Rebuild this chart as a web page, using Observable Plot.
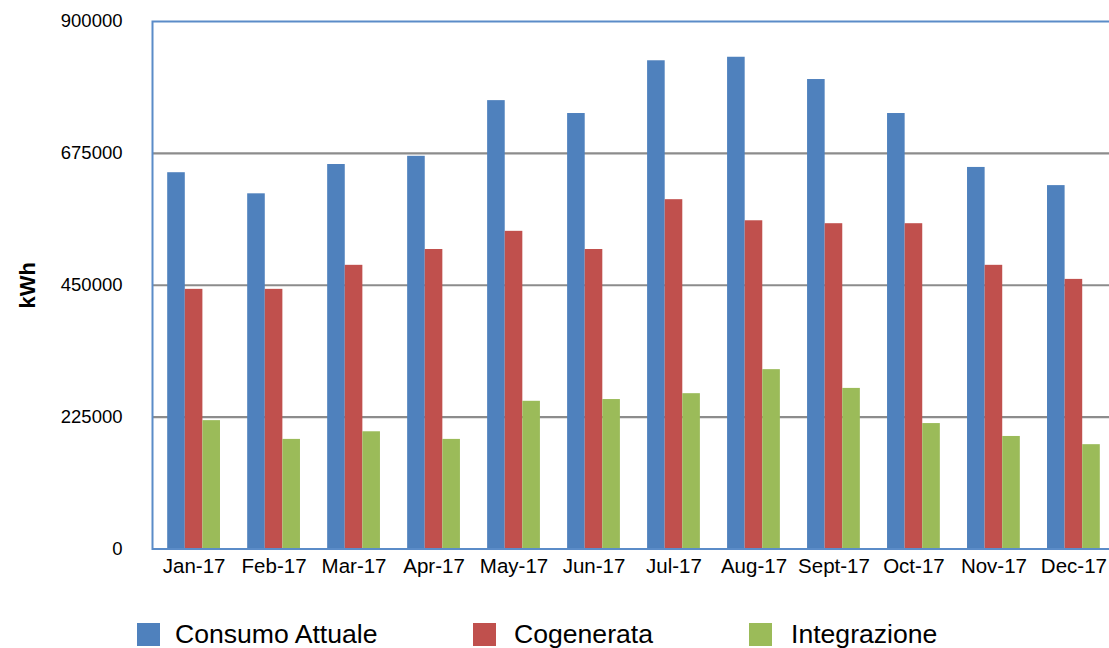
<!DOCTYPE html>
<html><head><meta charset="utf-8">
<script src="https://cdn.jsdelivr.net/npm/d3@7"></script>
<script src="https://cdn.jsdelivr.net/npm/@observablehq/plot@0.6"></script>
<style>
html,body{margin:0;padding:0;background:#fff;overflow:hidden;width:1109px;height:648px;}
#wrap{position:relative;width:1109px;height:648px;overflow:hidden;font-family:"Liberation Sans",Arial,sans-serif;}
#chart{position:absolute;left:0;top:0;}
#chart svg{max-width:none !important;}
.leg{position:absolute;top:621px;display:flex;align-items:center;font-size:26.6px;color:#000;line-height:26px;white-space:nowrap;}
</style></head><body><div id="wrap"><div id="chart"></div></div>
<script>
const months = ["Jan-17","Feb-17","Mar-17","Apr-17","May-17","Jun-17","Jul-17","Aug-17","Sept-17","Oct-17","Nov-17","Dec-17"];
const consumo = [642000, 606000, 656000, 670000, 765000, 743000, 833000, 839000, 801000, 743000, 651000, 620000];
const cogenerata = [443000, 443000, 484000, 511000, 542000, 511000, 596000, 560000, 555000, 555000, 484000, 460000];
const integrazione = [219000, 187000, 200000, 187000, 252000, 255000, 265000, 306000, 274000, 214000, 192000, 178000];
const seriesNames = ["Consumo Attuale","Cogenerata","Integrazione"];
const seriesColors = ["#4F81BD","#C0504D","#9BBB59"];
const yTicks = [0, 225000, 450000, 675000, 900000];
const gridTicks = [225000, 450000, 675000];
const yLabel = "kWh";

const W = 1115, H = 600, ML = 152;
const pInner = 0.34, pOuter = 0.19;
const step = (W - ML) / (months.length - pInner + 2 * pOuter);
const bw = step * (1 - pInner);
const third = bw / 3;

const seriesValues = [consumo, cogenerata, integrazione];
const barMarks = seriesValues.map((vals, i) =>
  Plot.barY(vals, {
    x: months, y: vals, fill: seriesColors[i],
    insetLeft: third * i, insetRight: third * (2 - i)
  })
);

const chart = Plot.plot({
  width: W, height: H,
  marginLeft: ML, marginRight: 0, marginTop: 21, marginBottom: 51.5,
  style: {fontFamily: "'Liberation Sans', Arial, sans-serif", color: "#000", background: "#fff", maxWidth: "none"},
  x: {domain: months, paddingInner: pInner, paddingOuter: pOuter, round: false, label: null},
  y: {domain: [0, 900000], label: null},
  marks: [
    Plot.ruleY(gridTicks, {stroke: "#8c8c8c", strokeWidth: 2.2}),
    ...barMarks,
    Plot.frame({stroke: "#5B8CC8", strokeWidth: 2}),
    Plot.axisY(yTicks, {tickSize: 0, tickPadding: 30, fontSize: 18.5, tickFormat: d => String(d), label: null, fill: "#000"}),
    Plot.axisX({tickSize: 0, tickPadding: 9, fontSize: 20.5, label: null, fill: "#000"}),
    Plot.text([yLabel], {text: d => d, frameAnchor: "left", rotate: -90, textAnchor: "middle", dx: -125, fontSize: 22, fontWeight: "bold", fill: "#000"})
  ]
});
document.getElementById("chart").appendChild(chart);

const legX = [[137, 175], [473, 514], [749, 791]];
const wrap = document.getElementById("wrap");
seriesNames.forEach((name, i) => {
  const sw = document.createElement("div");
  sw.style.cssText = `position:absolute;left:${legX[i][0]}px;top:623px;width:23px;height:23px;background:${seriesColors[i]};`;
  wrap.appendChild(sw);
  const t = document.createElement("div");
  t.className = "leg";
  t.style.left = legX[i][1] + "px";
  t.textContent = name;
  wrap.appendChild(t);
});
</script>
</body></html>
